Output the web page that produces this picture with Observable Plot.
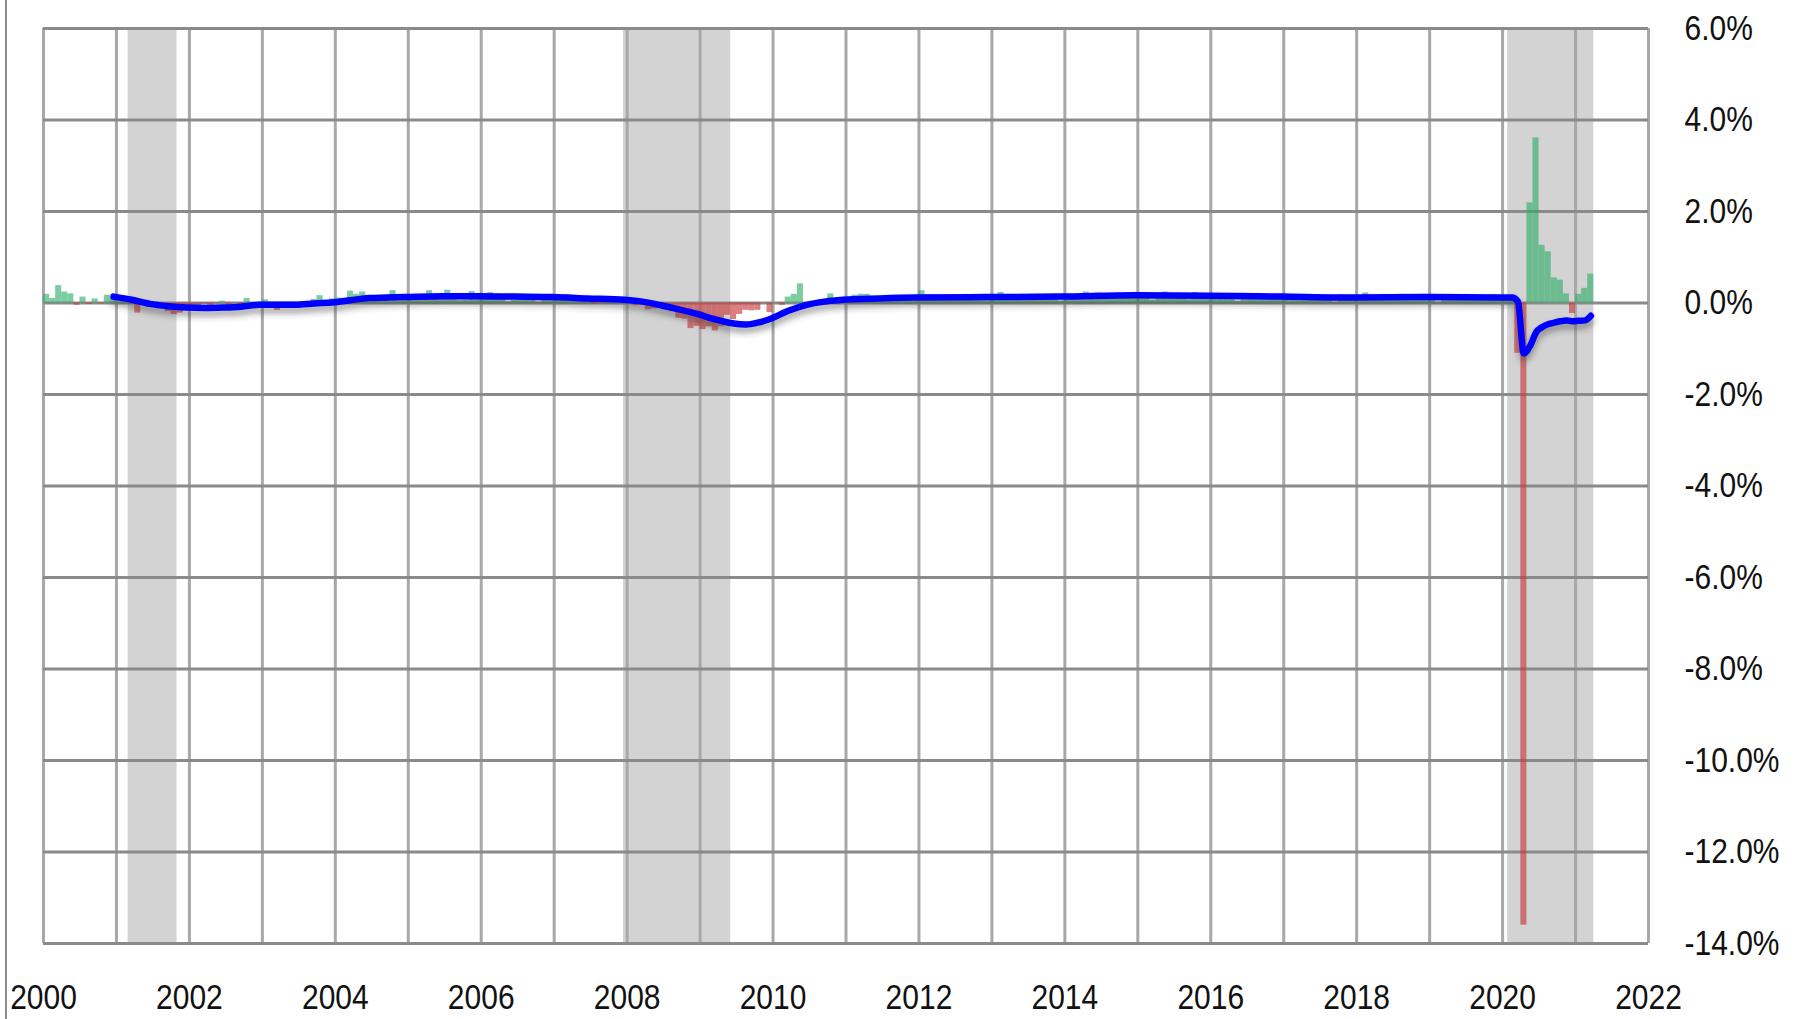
<!DOCTYPE html>
<html><head><meta charset="utf-8">
<script src="https://cdn.jsdelivr.net/npm/d3@7"></script>
<script src="https://cdn.jsdelivr.net/npm/@observablehq/plot@0.6"></script>
<style>
body{margin:0;background:#fff;}
#wrap{position:relative;width:1796px;height:1019px;overflow:hidden;}
#edge{position:absolute;left:5px;top:0;width:2px;height:1019px;background:#8c8c8c;}
#wrap svg{position:absolute;left:0;top:0;}
</style></head><body><div id="wrap"><div id="edge"></div></div>
<script>
// Monthly % change, January 2000 onward (one row per year)
const startYear = 2000;
const monthlyChange = [
  0.19, 0.10, 0.38, 0.24, 0.20, -0.05, 0.13, -0.03, 0.09, -0.02, 0.17, 0.10,   // 2000
  0.03, 0.05, -0.02, -0.22, -0.03, -0.10, -0.10, -0.12, -0.19, -0.25, -0.22, -0.14, // 2001
  -0.10, -0.11, -0.02, -0.07, -0.01, 0.04, -0.07, 0.01, -0.04, 0.10, 0.01, -0.12, // 2002
  0.07, -0.12, -0.16, -0.04, 0.00, -0.01, 0.02, -0.03, 0.08, 0.16, 0.01, 0.09,  // 2003
  0.11, 0.03, 0.26, 0.19, 0.24, 0.06, 0.04, 0.09, 0.12, 0.27, 0.05, 0.10,       // 2004
  0.10, 0.18, 0.11, 0.27, 0.13, 0.18, 0.28, 0.14, 0.05, 0.06, 0.25, 0.12,       // 2005
  0.20, 0.23, 0.20, 0.13, 0.02, 0.06, 0.15, 0.13, 0.11, 0.00, 0.15, 0.12,       // 2006
  0.17, 0.06, 0.14, 0.06, 0.10, 0.05, -0.02, -0.01, 0.06, 0.06, 0.09, 0.07,     // 2007
  0.01, -0.06, -0.05, -0.15, -0.13, -0.12, -0.15, -0.19, -0.33, -0.35, -0.56, -0.51, // 2008
  -0.58, -0.52, -0.61, -0.52, -0.27, -0.36, -0.25, -0.16, -0.17, -0.16, 0.00, -0.21, // 2009
  0.01, -0.05, 0.13, 0.19, 0.42, -0.10, -0.05, -0.03, -0.04, 0.20, 0.09, 0.07,  // 2010
  0.01, 0.17, 0.19, 0.19, 0.04, 0.06, 0.07, 0.08, 0.16, 0.07, 0.09, 0.16,       // 2011
  0.27, 0.18, 0.18, 0.06, 0.09, 0.07, 0.11, 0.14, 0.14, 0.10, 0.11, 0.18,       // 2012
  0.14, 0.23, 0.10, 0.14, 0.16, 0.09, 0.12, 0.19, 0.11, 0.16, 0.19, 0.04,       // 2013
  0.14, 0.11, 0.20, 0.24, 0.18, 0.22, 0.15, 0.17, 0.20, 0.16, 0.22, 0.18,       // 2014
  0.17, 0.17, 0.06, 0.18, 0.24, 0.15, 0.18, 0.11, 0.07, 0.23, 0.19, 0.17,       // 2015
  0.09, 0.17, 0.16, 0.11, 0.03, 0.21, 0.20, 0.09, 0.17, 0.09, 0.11, 0.11,       // 2016
  0.18, 0.13, 0.05, 0.12, 0.11, 0.16, 0.13, 0.15, 0.01, 0.18, 0.15, 0.12,       // 2017
  0.12, 0.22, 0.10, 0.12, 0.18, 0.16, 0.12, 0.19, 0.07, 0.18, 0.13, 0.15,       // 2018
  0.18, 0.00, 0.10, 0.14, 0.06, 0.12, 0.13, 0.14, 0.14, 0.12, 0.17, 0.12,       // 2019
  0.14, 0.16, -1.10, -13.60, 2.19, 3.61, 1.26, 1.12, 0.55, 0.50, 0.20, -0.23,   // 2020
  0.19, 0.32, 0.63                                                              // 2021
];

// Blue trend line
const lineYears = [
  2000.96, 2001.21, 2001.46, 2001.71, 2001.96, 2002.21, 2002.46, 2002.71, 2002.96,
  2003.21, 2003.46, 2003.71, 2003.96, 2004.21, 2004.46, 2004.71, 2004.96, 2005.46,
  2005.96, 2006.46, 2006.96, 2007.46, 2007.96, 2008.21, 2008.46, 2008.71, 2008.96,
  2009.21, 2009.46, 2009.63, 2009.79, 2009.96, 2010.21, 2010.46, 2010.71, 2010.96,
  2011.46, 2011.96, 2012.96, 2013.96, 2014.96, 2015.96, 2016.96, 2017.96, 2018.96,
  2019.96, 2020.13, 2020.21, 2020.29, 2020.38, 2020.46, 2020.54, 2020.63, 2020.71,
  2020.79, 2020.88, 2020.96, 2021.04, 2021.13, 2021.21
];
const lineValues = [
  0.14, 0.07, -0.02, -0.07, -0.10, -0.11, -0.10, -0.08, -0.04,
  -0.04, -0.04, -0.01, 0.01, 0.06, 0.11, 0.12, 0.13, 0.15,
  0.15, 0.14, 0.13, 0.10, 0.07, 0.03, -0.05, -0.14, -0.24,
  -0.36, -0.45, -0.47, -0.43, -0.35, -0.17, -0.04, 0.03, 0.07,
  0.10, 0.12, 0.13, 0.14, 0.17, 0.16, 0.14, 0.12, 0.13,
  0.12, 0.12, 0.03, -1.10, -0.93, -0.64, -0.53, -0.46, -0.43,
  -0.40, -0.38, -0.40, -0.39, -0.38, -0.28
];

// Shaded recession periods
const recessionStart = [2001.16, 2007.95, 2020.07];
const recessionEnd   = [2001.83, 2009.42, 2021.25];

// Ticks
const xTickLabels = [2000, 2002, 2004, 2006, 2008, 2010, 2012, 2014, 2016, 2018, 2020, 2022];
const xGridYears = [2000, 2001, 2002, 2003, 2004, 2005, 2006, 2007, 2008, 2009, 2010, 2011,
                    2012, 2013, 2014, 2015, 2016, 2017, 2018, 2019, 2020, 2021, 2022];
const yTickLabels = [6, 4, 2, 0, -2, -4, -6, -8, -10, -12, -14];

const bars = monthlyChange.map((v, i) => ({x1: startYear + i / 12, x2: startYear + (i + 1) / 12, v}));
const linePts = lineYears.map((x, i) => ({x, v: lineValues[i]}));
const recessions = recessionStart.map((s, i) => ({start: s, end: recessionEnd[i]}));

const chart = Plot.plot({
  width: 1796, height: 1019,
  marginLeft: 43, marginRight: 148, marginTop: 28, marginBottom: 76,
  style: {background: "transparent", fontFamily: "'Liberation Sans',Arial,sans-serif", fontSize: "30px", color: "#111", overflow: "visible"},
  x: {domain: [2000, 2022], ticks: xTickLabels, tickFormat: d => String(d), tickSize: 0, tickPadding: 43, label: null},
  y: {domain: [-14, 6], ticks: yTickLabels, tickFormat: d => d.toFixed(1) + "%", tickSize: 0, tickPadding: 36, label: null, axis: "right"},
  marks: [
    Plot.rect(recessions, {x1: "start", x2: "end", fill: "#d3d3d3"}),
    Plot.ruleX(xGridYears, {stroke: "#a8a8a8", strokeWidth: 3}),
    Plot.ruleY(yTickLabels, {stroke: "#8a8a8a", strokeWidth: 3}),
    Plot.rect(bars.filter(d => d.v >= 0), {x1: "x1", x2: "x2", y1: () => 0, y2: "v", fill: "#2ead68", fillOpacity: 0.62}),
    Plot.rect(bars.filter(d => d.v < 0), {x1: "x1", x2: "x2", y1: () => 0, y2: "v", fill: "#c83c3c", fillOpacity: 0.65}),
    Plot.line(linePts, {x: "x", y: "v", stroke: "#303030", strokeWidth: 7, strokeOpacity: 0.45, dy: 5, curve: "monotone-x"}),
    Plot.line(linePts, {x: "x", y: "v", stroke: "#0000ff", strokeWidth: 6.5, curve: "monotone-x"})
  ]
});
document.getElementById("wrap").appendChild(chart);

const svg = d3.select(chart);
const defs = svg.append("defs");
defs.append("filter").attr("id", "blurShadow")
  .attr("filterUnits", "userSpaceOnUse").attr("x", 0).attr("y", 0).attr("width", 1796).attr("height", 1019)
  .append("feGaussianBlur").attr("stdDeviation", 3);
const lineGroups = svg.selectAll('g[aria-label="line"]').nodes();
if (lineGroups.length) d3.select(lineGroups[0]).attr("filter", "url(#blurShadow)");

// Slightly taller tick glyphs, as in the reference
svg.selectAll("text").each(function() {
  const b = this.getBBox();
  const cy = b.y + b.height / 2;
  const t = this.getAttribute("transform") || "";
  this.setAttribute("transform", `${t} translate(0,${cy}) scale(1,1.14) translate(0,${-cy})`.trim());
});
</script>
</body></html>
